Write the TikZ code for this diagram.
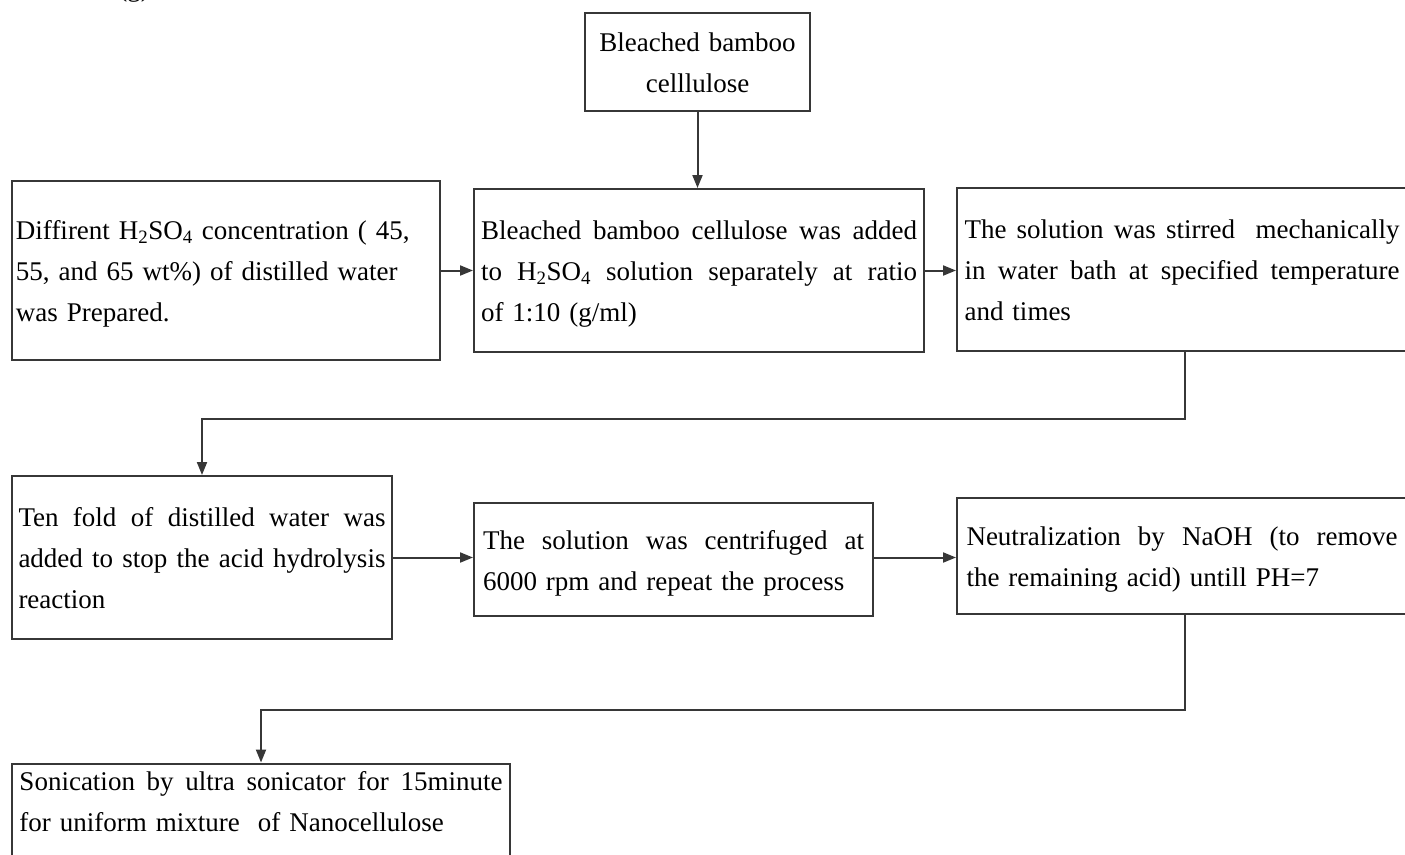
\documentclass[tikz,border=0pt]{standalone}
\usepackage{fontspec}
\setmainfont{Liberation Serif}
\usetikzlibrary{arrows.meta}
\definecolor{linegray}{RGB}{55,55,55}
\newcommand\jline[2]{\makebox[#1][s]{\spaceskip=.25em plus 3em minus .06em\relax #2}}
\newcommand\tstr{\rule{0pt}{27pt}}
\newcommand\bstr{\rule[-7pt]{0pt}{7pt}}
\newcommand\HSO{H\textsubscript{2}SO\textsubscript{4}}
\begin{document}
\begin{tikzpicture}[x=1pt,y=-1pt,
  txt/.style={font=\fontsize{27pt}{41pt}\selectfont},
  box/.style={txt, draw=linegray, line width=2pt, inner xsep=0pt, inner ysep=0pt, align=left},
  conn/.style={draw=linegray, line width=2pt},
  arr/.style={conn, -{Triangle[length=13pt,width=10pt]}}
]
\useasboundingbox (0,0) rectangle (1405,854);

\node[txt, anchor=base] (lbl) at (134,-4) {(g)};

\node[box, align=center, minimum width=225pt, minimum height=98pt, text width=215pt] (top) at (697.5,62)
  {\tstr Bleached bamboo\\celllulose\bstr};

\node[box, minimum width=428pt, minimum height=179pt, text width=420pt] (A) at (226,270.5)
  {\tstr Diffirent \HSO{} concentration ( 45,\\55, and 65 wt\%) of distilled water\\was Prepared.\bstr};

\node[box, minimum width=450pt, minimum height=163pt, text width=436pt] (B) at (699,270.5)
  {\jline{436pt}{\tstr Bleached bamboo cellulose was added}\\\jline{436pt}{to \HSO{} solution separately at ratio}\\of 1:10 (g/ml)\bstr};

\node[box, minimum width=456pt, minimum height=163pt, text width=441pt] (C) at (1185,269.5)
  {\jline{435pt}{\tstr The solution was stirred\ \ mechanically}\\\jline{435pt}{in water bath at specified temperature}\\and times\bstr};

\node[box, minimum width=380pt, minimum height=163pt, text width=367pt] (D) at (202,557.5)
  {\jline{367pt}{\tstr Ten fold of distilled water was}\\\jline{367pt}{added to stop the acid hydrolysis}\\reaction\bstr};

\node[box, minimum width=399pt, minimum height=113pt, text width=381pt] (E) at (673.5,559.5)
  {\jline{381pt}{\tstr The solution was centrifuged at}\\6000 rpm and repeat the process\bstr};

\node[box, minimum width=456pt, minimum height=116pt, text width=437pt] (F) at (1185,556)
  {\jline{431pt}{\tstr Neutralization by NaOH (to remove}\\the remaining acid) untill PH=7\bstr};

\node[box, minimum width=498pt, minimum height=140pt, text width=483pt] (G) at (261,838)
  {\jline{483pt}{\tstr Sonication by ultra sonicator for 15minute}\\for uniform mixture\ \ of Nanocellulose\bstr\\[40pt]\mbox{}};

\draw[arr] (top.south) -- (top.south |- B.north);
\draw[arr] (A.east) -- (B.west);
\draw[arr] (B.east) -- (B.east -| C.west);
\coordinate (c1) at ([yshift=-67pt]C.south);
\draw[arr] (C.south) -- (c1) -| (D.north);
\draw[arr] (D.east) -- (D.east -| E.west);
\draw[arr] (E.east |- D.east) -- (D.east -| F.west);
\coordinate (c2) at ([yshift=-95pt]F.south);
\draw[arr] (F.south) -- (c2) -| (G.north);
\end{tikzpicture}
\end{document}
